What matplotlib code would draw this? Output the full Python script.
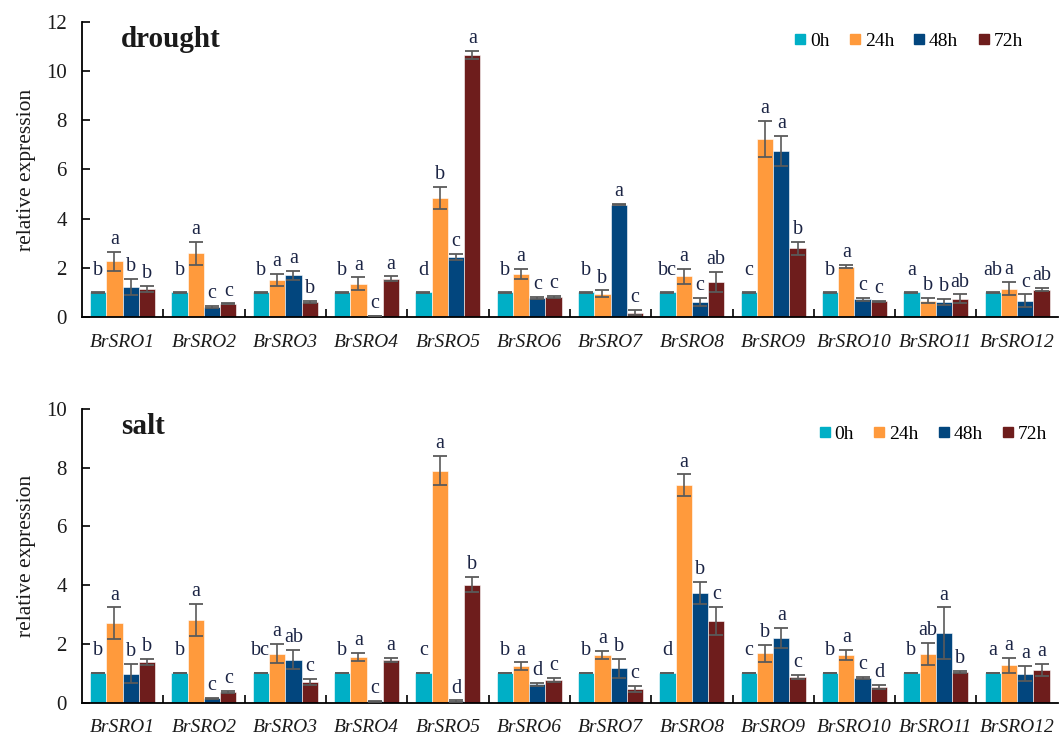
import matplotlib
matplotlib.use("Agg")
import matplotlib.pyplot as plt
import numpy as np
from matplotlib.lines import Line2D

plt.rcParams['font.family'] = ['Liberation Serif', 'DejaVu Serif']

genes = ['BrSRO1', 'BrSRO2', 'BrSRO3', 'BrSRO4', 'BrSRO5', 'BrSRO6',
         'BrSRO7', 'BrSRO8', 'BrSRO9', 'BrSRO10', 'BrSRO11', 'BrSRO12']
times = ['0h', '24h', '48h', '72h']
colors = ['#00AFC6', '#FF9A3C', '#02467E', '#6E1D1C']

# drought
drought_0h = [1, 1, 1, 1, 1, 1, 1, 1, 1, 1, 1, 1]
drought_0h_err = [0.01, 0.01, 0.01, 0.01, 0.01, 0.01, 0.01, 0.01, 0.01, 0.01, 0.01, 0.01]
drought_24h = [2.26, 2.59, 1.50, 1.35, 4.84, 1.75, 0.94, 1.65, 7.25, 2.05, 0.67, 1.15]
drought_24h_err = [0.40, 0.46, 0.26, 0.26, 0.46, 0.20, 0.14, 0.30, 0.73, 0.07, 0.12, 0.27]
drought_48h = [1.22, 0.41, 1.69, 0.03, 2.45, 0.78, 4.57, 0.61, 6.76, 0.72, 0.61, 0.67]
drought_48h_err = [0.32, 0.03, 0.20, 0.01, 0.13, 0.03, 0.02, 0.17, 0.60, 0.05, 0.12, 0.25]
drought_72h = [1.15, 0.53, 0.61, 1.55, 10.66, 0.82, 0.18, 1.42, 2.79, 0.63, 0.74, 1.11]
drought_72h_err = [0.12, 0.02, 0.03, 0.10, 0.18, 0.03, 0.10, 0.40, 0.27, 0.03, 0.18, 0.06]
drought_letters = [('b', 'a', 'b', 'b'), ('b', 'a', 'c', 'c'), ('b', 'a', 'a', 'b'),
                   ('b', 'a', 'c', 'a'), ('d', 'b', 'c', 'a'), ('b', 'a', 'c', 'c'),
                   ('b', 'b', 'a', 'c'), ('bc', 'a', 'c', 'ab'), ('c', 'a', 'a', 'b'),
                   ('b', 'a', 'c', 'c'), ('a', 'b', 'b', 'ab'), ('ab', 'a', 'c', 'ab')]

# salt
salt_0h = [1, 1, 1, 1, 1, 1, 1, 1, 1, 1, 1, 1]
salt_0h_err = [0.01, 0.01, 0.01, 0.01, 0.01, 0.01, 0.01, 0.01, 0.01, 0.01, 0.01, 0.01]
salt_24h = [2.71, 2.81, 1.66, 1.55, 7.90, 1.24, 1.62, 7.41, 1.67, 1.62, 1.66, 1.27]
salt_24h_err = [0.53, 0.56, 0.33, 0.15, 0.50, 0.13, 0.15, 0.36, 0.28, 0.17, 0.38, 0.26]
salt_48h = [0.98, 0.14, 1.46, 0.04, 0.05, 0.62, 1.16, 3.74, 2.20, 0.84, 2.36, 0.98]
salt_48h_err = [0.33, 0.02, 0.32, 0.01, 0.02, 0.06, 0.33, 0.38, 0.33, 0.04, 0.88, 0.26]
salt_72h = [1.38, 0.36, 0.70, 1.46, 4.02, 0.77, 0.47, 2.77, 0.87, 0.53, 1.04, 1.10]
salt_72h_err = [0.10, 0.03, 0.10, 0.07, 0.27, 0.07, 0.10, 0.48, 0.08, 0.08, 0.03, 0.21]
salt_letters = [('b', 'a', 'b', 'b'), ('b', 'a', 'c', 'c'), ('bc', 'a', 'ab', 'c'),
                ('b', 'a', 'c', 'a'), ('c', 'a', 'd', 'b'), ('b', 'a', 'd', 'c'),
                ('b', 'a', 'b', 'c'), ('d', 'a', 'b', 'c'), ('c', 'b', 'a', 'c'),
                ('b', 'a', 'c', 'd'), ('b', 'ab', 'a', 'b'), ('a', 'a', 'a', 'a')]

txt = '#1a1a1a'
lett_col = '#1b2444'


def panel(ax, vals, errs, letters, ymax, title, leg_anchor):
    x = np.arange(len(genes))
    w = 0.2
    offs = [-0.3, -0.1, 0.1, 0.3]
    for k in range(4):
        ax.bar(x + offs[k], vals[k], w, color=colors[k], edgecolor='white',
               linewidth=0.4, zorder=2)
        ax.errorbar(x + offs[k], vals[k], yerr=errs[k], fmt='none',
                    ecolor='#5a5a5a', elinewidth=1.2, capsize=5, capthick=1.3, zorder=3)
        for i in range(len(genes)):
            top = vals[k][i] + errs[k][i]
            dy = 9 if k == 0 else 2
            ax.annotate(letters[i][k], (x[i] + offs[k], top), xytext=(0, dy),
                        textcoords='offset points', ha='center', va='bottom',
                        fontsize=14.5, color=lett_col)
    ax.set_xlim(-0.5, 11.5)
    ax.set_ylim(0, ymax)
    ax.set_yticks(np.arange(0, ymax + 1, 2))
    ax.set_xticks(x)
    ax.set_xticklabels(genes, style='italic', fontsize=14, color=txt)
    ax.set_xticks(np.arange(0.5, 11, 1), minor=True)
    ax.tick_params(axis='x', which='major', length=0, pad=12)
    ax.tick_params(axis='x', which='minor', direction='in', length=6, width=1.2)
    ax.tick_params(axis='y', direction='in', length=6, width=1.2, labelsize=15,
                   labelcolor=txt, pad=11)
    for s in ['top', 'right']:
        ax.spines[s].set_visible(False)
    for s in ['left', 'bottom']:
        ax.spines[s].set_linewidth(1.3)
    ax.set_ylabel('relative expression', fontsize=15.5, color=txt, labelpad=7)
    ax.text(0.04, 0.985, title, transform=ax.transAxes, fontsize=21,
            fontweight='bold', va='top', ha='left', color=txt)
    handles = [Line2D([], [], marker='s', color=colors[k], linestyle='none',
                      markersize=7) for k in range(4)]
    ax.legend(handles, times, loc='center right', bbox_to_anchor=leg_anchor,
              ncol=4, frameon=False, fontsize=14, handlelength=0.6,
              handletextpad=0.2, columnspacing=1.0, borderaxespad=0)


fig = plt.figure(figsize=(10.63, 7.38), dpi=100)
ax1 = fig.add_axes([0.0771, 0.5705, 0.918, 0.3997])
ax2 = fig.add_axes([0.0771, 0.0481, 0.918, 0.3977])

panel(ax1, [drought_0h, drought_24h, drought_48h, drought_72h],
      [drought_0h_err, drought_24h_err, drought_48h_err, drought_72h_err],
      drought_letters, 12, 'drought', (0.972, 0.935))
panel(ax2, [salt_0h, salt_24h, salt_48h, salt_72h],
      [salt_0h_err, salt_24h_err, salt_48h_err, salt_72h_err],
      salt_letters, 10, 'salt', (0.997, 0.915))

fig.savefig('out.png', dpi=100)
